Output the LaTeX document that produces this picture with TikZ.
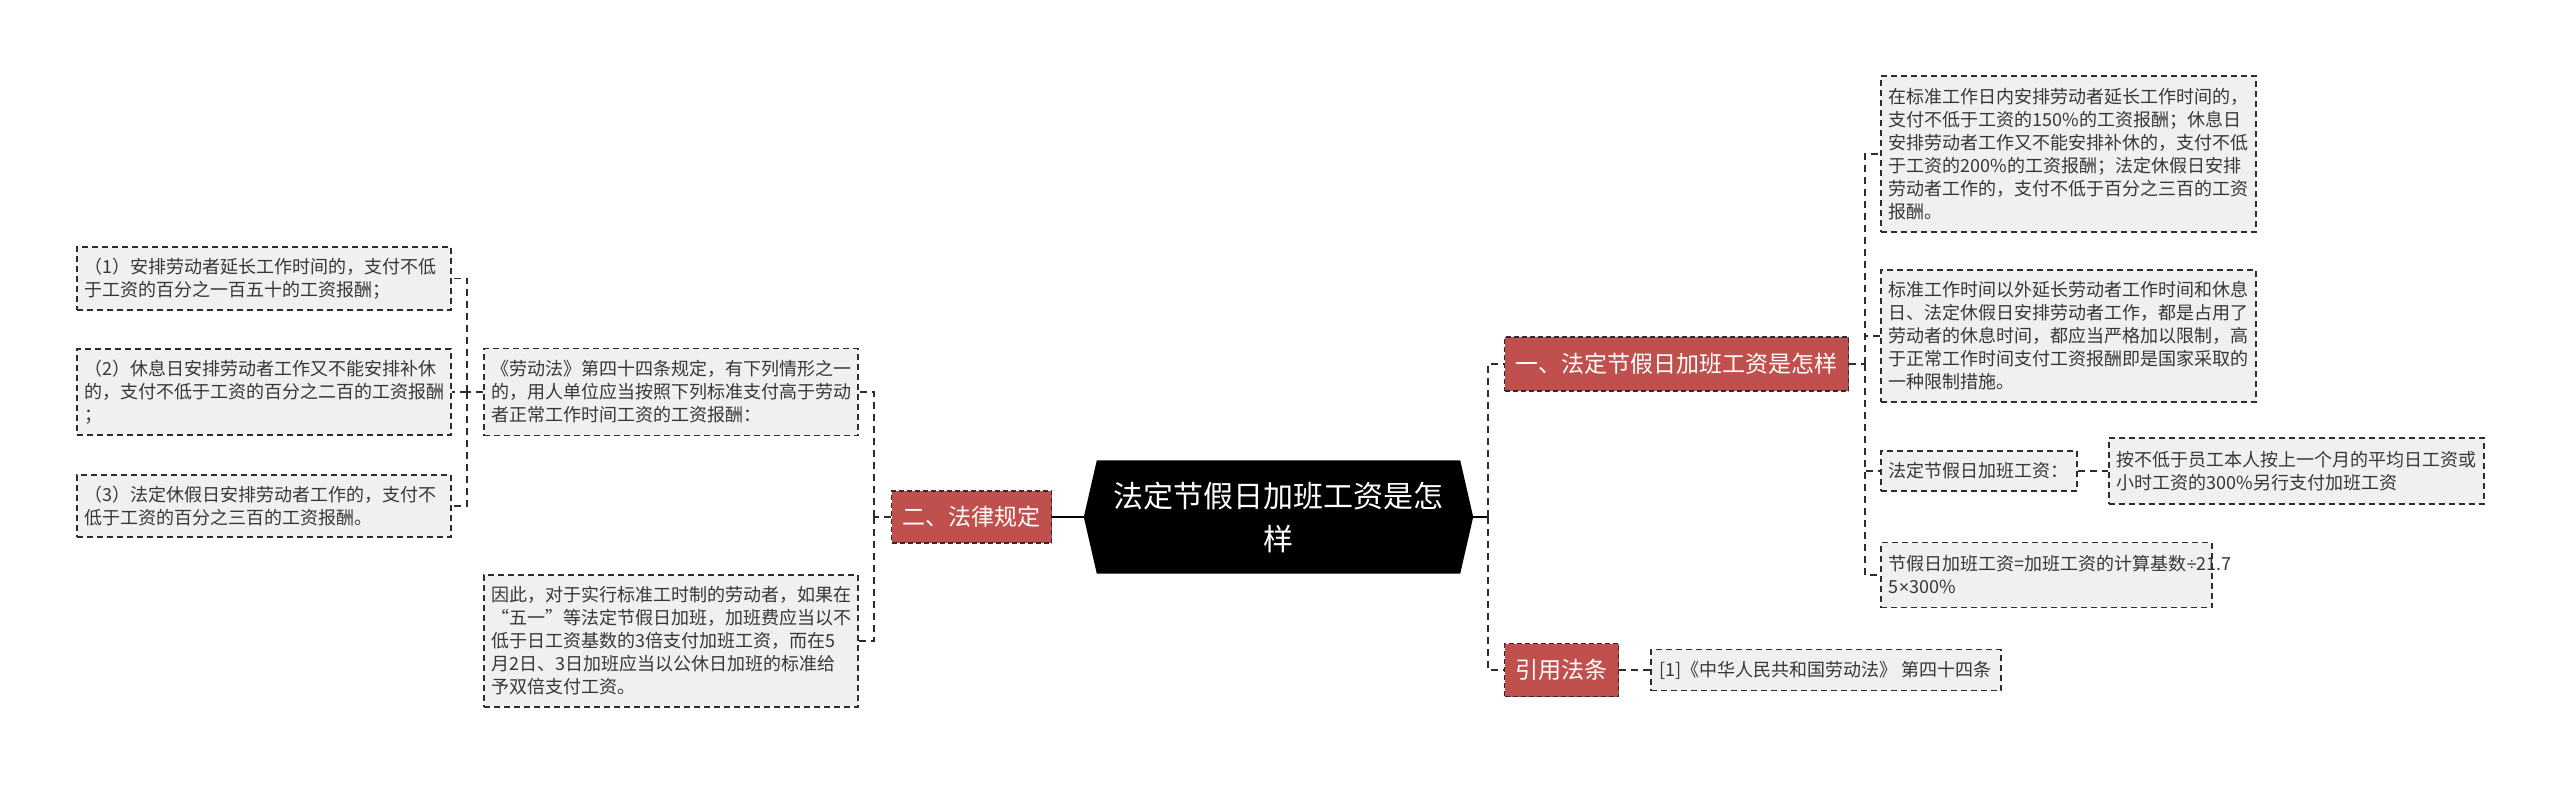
\documentclass[tikz,border=0pt]{standalone}
\usepackage{fontspec}
\setmainfont{Noto Sans CJK SC}
\newfontfamily\latinf{Liberation Sans}
\usetikzlibrary{backgrounds}
\definecolor{redbox}{RGB}{192,80,77}
\definecolor{graybox}{RGB}{240,240,240}
\definecolor{linec}{RGB}{45,45,45}
\definecolor{txt}{RGB}{55,55,55}
\tikzset{
  leaf/.style={draw=linec, fill=graybox, dash pattern=on 6pt off 4pt, line width=1.6pt,
    text=txt, font=\fontsize{18}{23}\selectfont, inner xsep=8pt, inner ysep=0pt, anchor=west},
  leafw/.style={leaf, align=left, text width=#1},
  branch/.style={draw=linec, fill=redbox, dash pattern=on 5pt off 3pt, line width=1.4pt,
    text=white, font=\fontsize{23}{28}\selectfont, inner sep=0pt, anchor=west},
  conn/.style={draw=linec, line width=1.8pt, dash pattern=on 7pt off 5pt},
  solidconn/.style={draw=black, line width=2.2pt},
}
\begin{document}
\begin{tikzpicture}[x=1pt,y=-1pt]
\useasboundingbox (0,0) rectangle (2560,785);
\begin{scope}[on background layer]
  \fill[white] (0,0) rectangle (2560,785);
\end{scope}

% central node
\node[inner sep=0pt, minimum width=389pt, minimum height=113pt, text=white, align=center,
      font=\fontsize{30}{43}\selectfont] (c) at (1278.5,517) {法定节假日加班工资是怎\\样};
\begin{scope}[on background layer]
  \fill[black] ([xshift=13pt]c.north west) -- ([xshift=-13pt]c.north east) -- (c.east)
    -- ([xshift=-13pt]c.south east) -- ([xshift=13pt]c.south west) -- (c.west) -- cycle;
\end{scope}

% branches
\node[branch, minimum width=160pt, minimum height=52pt] (law) at (891,517) {二、法律规定};
\node[branch, minimum width=344pt, minimum height=54pt] (b1) at (1504,364) {一、法定节假日加班工资是怎样};
\node[branch, minimum width=114pt, minimum height=53pt] (b2) at (1504,670) {引用法条};

% left leaves
\node[leafw=358pt, minimum height=63pt] (L1) at (76,278.5)
  {（1）安排劳动者延长工作时间的，支付不低\\于工资的百分之一百五十的工资报酬；};
\node[leafw=358pt, minimum height=86pt] (L2) at (76,392)
  {（2）休息日安排劳动者工作又不能安排补休\\的，支付不低于工资的百分之二百的工资报酬\\；};
\node[leafw=358pt, minimum height=62pt] (L3) at (76,506)
  {（3）法定休假日安排劳动者工作的，支付不\\低于工资的百分之三百的工资报酬。};
\node[leafw=358pt, minimum height=87pt] (A) at (483,392)
  {《劳动法》第四十四条规定，有下列情形之一\\的，用人单位应当按照下列标准支付高于劳动\\者正常工作时间工资的工资报酬：};
\node[leafw=358pt, minimum height=132pt] (B) at (483,641)
  {因此，对于实行标准工时制的劳动者，如果在\\“五一”等法定节假日加班，加班费应当以不\\低于日工资基数的3倍支付加班工资，而在5\\月2日、3日加班应当以公休日加班的标准给\\予双倍支付工资。};

% right leaves
\node[leafw=359pt, minimum height=156pt] (R1) at (1880,154)
  {在标准工作日内安排劳动者延长工作时间的，\\支付不低于工资的150\%的工资报酬；休息日\\安排劳动者工作又不能安排补休的，支付不低\\于工资的200\%的工资报酬；法定休假日安排\\劳动者工作的，支付不低于百分之三百的工资\\报酬。};
\node[leafw=359pt, minimum height=132pt] (R2) at (1880,336)
  {标准工作时间以外延长劳动者工作时间和休息\\日、法定休假日安排劳动者工作，都是占用了\\劳动者的休息时间，都应当严格加以限制，高\\于正常工作时间支付工资报酬即是国家采取的\\一种限制措施。};
\node[leaf, minimum width=196pt, minimum height=40pt] (R3) at (1880,471) {法定节假日加班工资：};
\node[leafw=359pt, minimum height=66pt] (R3b) at (2108,471)
  {按不低于员工本人按上一个月的平均日工资或\\小时工资的300\%另行支付加班工资};
\node[leafw=315pt, minimum height=65pt] (R4) at (1880,575)
  {节假日加班工资=加班工资的计算基数{\latinf ÷}21.7\\5{\latinf ×}300\%};
\node[leaf, minimum width=350pt, minimum height=41pt] (ref) at (1650,670)
  {[1]《中华人民共和国劳动法》 第四十四条};

% connectors
\coordinate (lt) at (874,517);
\coordinate (at) at (467,392);
\coordinate (rt) at (1488,517);
\coordinate (r1t) at (1865,364);

\draw[solidconn] (c.west) -- (law.east);
\draw[solidconn] (c.east) -- (rt);
\draw[conn] (rt) |- (b1.west);
\draw[conn] (rt) |- (b2.west);

\draw[conn] (law.west) -- (lt);
\draw[conn] (lt) |- (A.east);
\draw[conn] (lt) |- (B.east);

\draw[conn] (A.west) -- (at);
\draw[conn] (at) |- (L1.east);
\draw[conn] (at) |- (L3.east);
\draw[conn] (at) -- (L2.east);

\draw[conn] (b1.east) -- (r1t);
\draw[conn] (r1t) |- (R1.west);
\draw[conn] (r1t) |- (R2.west);
\draw[conn] (r1t) |- (R3.west);
\draw[conn] (r1t) |- (R4.west);
\draw[conn] (R3.east) -- (R3b.west);

\draw[conn] (b2.east) -- (ref.west);
\end{tikzpicture}
\end{document}
